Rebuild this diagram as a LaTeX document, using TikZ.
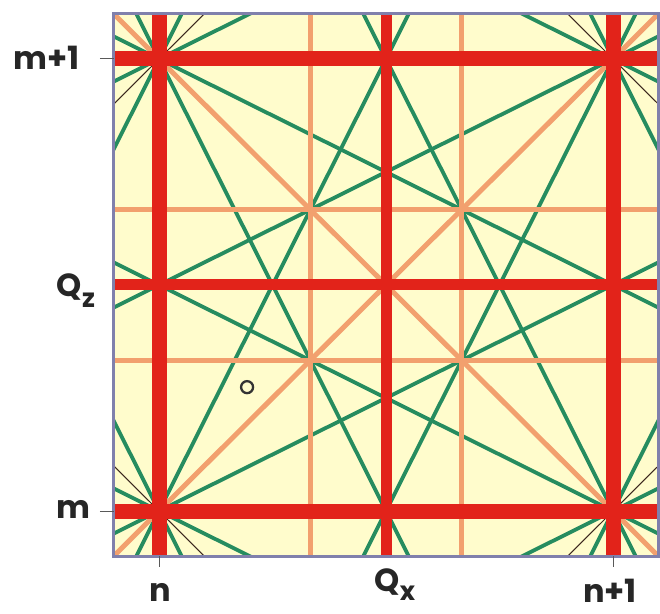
\documentclass[tikz,border=0pt]{standalone}
\usepackage{fontspec}
\setmainfont{Poppins}
\definecolor{bgyel}{RGB}{255,252,204}
\definecolor{redl}{RGB}{226,35,26}
\definecolor{orl}{RGB}{242,160,110}
\definecolor{grl}{RGB}{38,140,95}
\definecolor{frl}{RGB}{128,128,172}
\definecolor{bkl}{RGB}{60,40,30}
\tikzset{
  greenline/.style={draw=grl, line width=3.8pt},
  blackline/.style={draw=bkl, line width=1pt},
  orangeline/.style={draw=orl, line width=5pt},
  redthick/.style={draw=redl, line width=15pt},
  redmid/.style={draw=redl, line width=11pt},
  framebox/.style={draw=frl, line width=3pt},
  tickmark/.style={draw=black!65, line width=1pt},
  lab/.style={font=\bfseries\fontsize{32}{36}\selectfont, inner sep=0pt, text=black!85},
}
\begin{document}
\begin{tikzpicture}[x=1pt,y=1pt]
\useasboundingbox (0,0) rectangle (660,613);
\fill[white] (0,0) rectangle (660,613);
\begin{scope}[shift={(159,102)}, x=454pt, y=452pt]
  \fill[bgyel] (-0.1,-0.1) rectangle (1.1,1.1);
  \begin{scope}
    \clip (-0.1,-0.1) rectangle (1.1,1.1);
    % green lines: slopes +-2, +-1/2 through each lattice corner
    \foreach \px/\py in {0/0,1/0,0/1,1/1} {
      \foreach \dx/\dy in {1/2,1/-2,2/1,2/-1} {
        \draw[greenline] ({\px-(\dx)},{\py-(\dy)}) -- ({\px+(\dx)},{\py+(\dy)});
      }
    }
    % thin black diagonals of neighbouring cells
    \draw[blackline] (-1,0) -- (1,2);
    \draw[blackline] (0,-1) -- (2,1);
    \draw[blackline] (-1,1) -- (1,-1);
    \draw[blackline] (0,2) -- (2,0);
    % orange lines
    \draw[orangeline] (0.3333,-1) -- (0.3333,2);
    \draw[orangeline] (0.6667,-1) -- (0.6667,2);
    \draw[orangeline] (-1,0.3333) -- (2,0.3333);
    \draw[orangeline] (-1,0.6667) -- (2,0.6667);
    \draw[orangeline] (-1,-1) -- (2,2);
    \draw[orangeline] (-1,2) -- (2,-1);
    % red lines
    \draw[redthick] (0,-1) -- (0,2);
    \draw[redthick] (1,-1) -- (1,2);
    \draw[redthick] (-1,0) -- (2,0);
    \draw[redthick] (-1,1) -- (2,1);
    \draw[redmid] (0.5,-1) -- (0.5,2);
    \draw[redmid] (-1,0.5) -- (2,0.5);
  \end{scope}
  \draw[framebox] (-0.1,-0.1) rectangle (1.1,1.1);
  % ticks
  \draw[tickmark] (-0.13,1) -- (-0.1,1);
  \draw[tickmark] (-0.13,0) -- (-0.1,0);
  \draw[tickmark] (0,-0.1) -- (0,-0.124);
  \draw[tickmark] (1,-0.1) -- (1,-0.124);
  % small circle
  \draw[draw=black!80, line width=2.3pt] (0.194,0.274) circle [radius=6pt];
\end{scope}
% labels
\node[lab, anchor=base] (mp1) at (47,543) {m+1};
\node[lab, anchor=base] (qz) at (76,316) {Q\raisebox{-0.33em}{\fontsize{26}{28}\selectfont z}};
\node[lab, anchor=base] (mm) at (73,95) {m};
\node[lab, anchor=base] (nn) at (160,12) {n};
\node[lab, anchor=base] (qx) at (395,22) {Q\raisebox{-0.3em}{\fontsize{26}{28}\selectfont x}};
\node[lab, anchor=base] (np1) at (610,11) {n+1};
\end{tikzpicture}
\end{document}
